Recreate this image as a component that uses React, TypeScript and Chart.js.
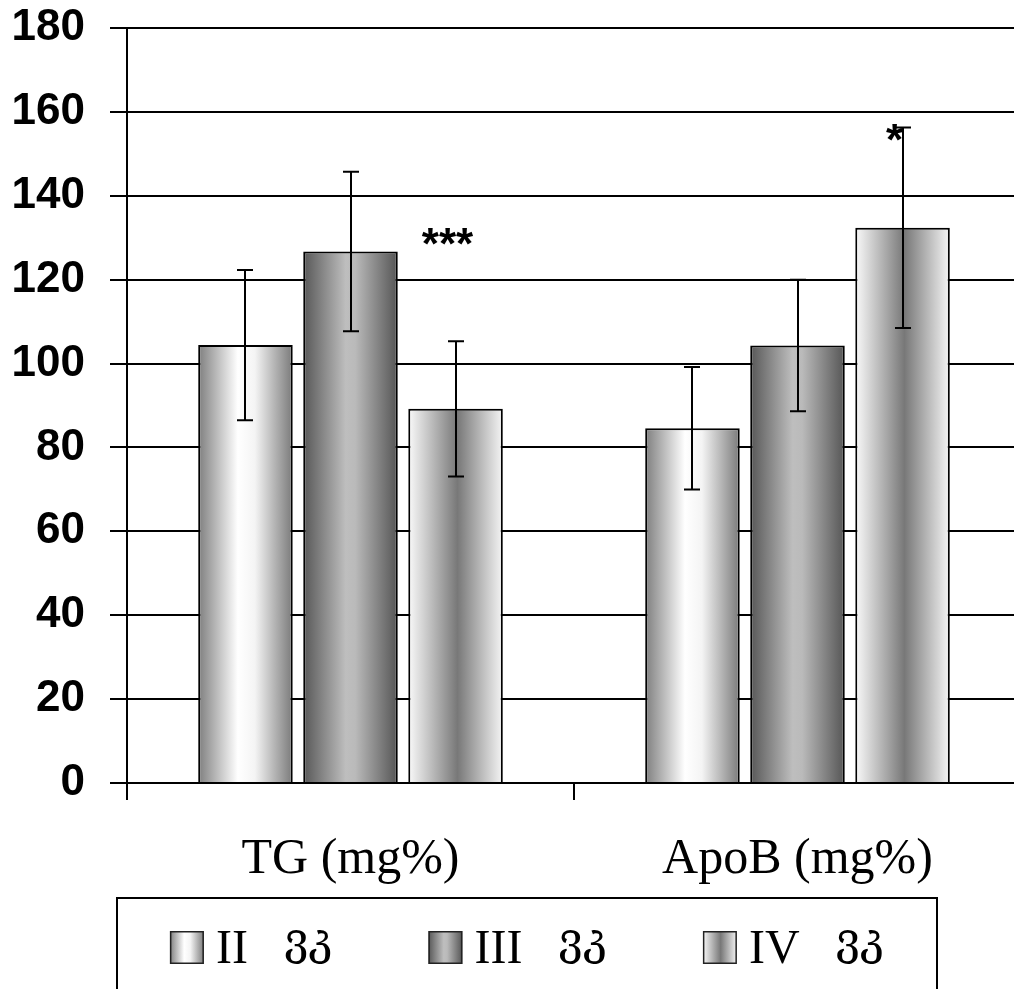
import { useEffect, useRef } from "react";
import { Chart, registerables } from "chart.js";

Chart.register(...registerables);

// ---- data ----
const categories = ["TG (mg%)", "ApoB (mg%)"];
const seriesLabels = ["II  ვკ", "III  ვკ", "IV  ვკ"];
const seriesII = [104.4, 84.6];
const seriesIII = [126.7, 104.3];
const seriesIV = [89.2, 132.4];
const errorII = [17.9, 14.6];
const errorIII = [19.0, 15.7];
const errorIV = [16.1, 23.9];
const yTickValues = [0, 20, 40, 60, 80, 100, 120, 140, 160, 180];
const markTexts = ["***", "*"];
const markSeries = [2, 2];
const markCategory = [0, 1];
const markValues = [131, 155.6];

// ---- styles ----
const gradientStops: [number, string][][] = [
  [[0, "#7e7e7e"], [0.42, "#ffffff"], [0.6, "#f4f4f4"], [1, "#7a7a7a"]],
  [[0, "#575757"], [0.45, "#bebebe"], [0.55, "#bababa"], [1, "#555555"]],
  [[0, "#fafafa"], [0.52, "#787878"], [1, "#f5f5f5"]],
];
const CAT_PCT = 0.705;
const BAR_PCT = 0.9;
const SERIF = "'Liberation Serif', 'DejaVu Serif', serif";
const GEO = "'DejaVu Serif', 'DejaVu Sans', serif";
const SANS = "'Liberation Sans', Arial, sans-serif";

function makeGradient(ctx: CanvasRenderingContext2D, x0: number, x1: number, series: number) {
  const g = ctx.createLinearGradient(x0, 0, x1, 0);
  for (const [o, c] of gradientStops[series]) g.addColorStop(o, c);
  return g;
}

const errorsBySeries = [errorII, errorIII, errorIV];

const errorBarPlugin = {
  id: "errorBars",
  afterDatasetsDraw(chart: any) {
    const ctx = chart.ctx;
    const ys = chart.scales.y;
    ctx.save();
    ctx.strokeStyle = "#000";
    ctx.lineWidth = 2;
    chart.data.datasets.forEach((ds: any, i: number) => {
      const meta = chart.getDatasetMeta(i);
      meta.data.forEach((bar: any, j: number) => {
        const v = ds.data[j];
        const e = errorsBySeries[i][j];
        const x = Math.round(bar.x);
        const yTop = ys.getPixelForValue(v + e);
        const yBot = ys.getPixelForValue(v - e);
        const cap = 8;
        ctx.beginPath();
        ctx.moveTo(x, yTop);
        ctx.lineTo(x, yBot);
        ctx.moveTo(x - cap, yTop);
        ctx.lineTo(x + cap, yTop);
        ctx.moveTo(x - cap, yBot);
        ctx.lineTo(x + cap, yBot);
        ctx.stroke();
      });
    });
    ctx.restore();
  },
};

const markPlugin = {
  id: "sigMarks",
  afterDatasetsDraw(chart: any) {
    const ctx = chart.ctx;
    const ys = chart.scales.y;
    const size = 44;
    ctx.save();
    ctx.fillStyle = "#000";
    ctx.font = `bold ${size}px ${SANS}`;
    ctx.textAlign = "center";
    ctx.textBaseline = "alphabetic";
    markTexts.forEach((t, k) => {
      const bar = chart.getDatasetMeta(markSeries[k]).data[markCategory[k]];
      const y = ys.getPixelForValue(markValues[k]);
      ctx.fillText(t, bar.x - 8, y + size * 0.57);
    });
    ctx.restore();
  },
};

const legendBoxPlugin = {
  id: "legendBox",
  afterDraw(chart: any) {
    const ctx = chart.ctx;
    ctx.save();
    ctx.strokeStyle = "#000";
    ctx.lineWidth = 2;
    const boxL = 117, boxT = 898, boxR = 937;
    ctx.strokeRect(boxL, boxT, boxR - boxL, 200);
    const romanFont = `48px ${SERIF}`;
    const geoFont = `44px ${GEO}`;
    const sw = 34, sh = 33, gap = 12, spacing = 96, innerGap = 36;
    const parts = seriesLabels.map((l) => {
      const idx = l.indexOf(" ");
      return [l.slice(0, idx), l.slice(idx).trim()];
    });
    const widths = parts.map(([r, g]) => {
      ctx.font = romanFont;
      const rw = ctx.measureText(r).width;
      ctx.font = geoFont;
      const gw = ctx.measureText(g).width;
      return [rw, gw];
    });
    const itemW = widths.map(([rw, gw]) => sw + gap + rw + innerGap + gw);
    const total = itemW.reduce((a, w) => a + w, 0) + spacing * (parts.length - 1);
    let x = (boxL + boxR) / 2 - total / 2;
    const top = 931;
    parts.forEach(([r, g], i) => {
      ctx.fillStyle = makeGradient(ctx, x, x + sw, i);
      ctx.fillRect(x, top, sw, sh);
      ctx.lineWidth = 1.5;
      ctx.strokeStyle = "#222";
      ctx.strokeRect(x + 0.75, top + 0.75, sw - 1.5, sh - 1.5);
      ctx.fillStyle = "#000";
      ctx.textBaseline = "alphabetic";
      ctx.textAlign = "left";
      ctx.font = romanFont;
      ctx.fillText(r, x + sw + gap, top + 32);
      ctx.font = geoFont;
      ctx.fillText(g, x + sw + gap + widths[i][0] + innerGap, top + 23);
      x += itemW[i] + spacing;
    });
    ctx.restore();
  },
};

export default function App() {
  const ref = useRef<HTMLCanvasElement | null>(null);

  useEffect(() => {
    if (!ref.current) return;
    const bg = (series: number) => (c: any) => {
      const fallback = gradientStops[series][1][1];
      const chart = c.chart;
      const xs = chart.scales?.x;
      if (!xs || c.dataIndex === undefined) return fallback;
      const center = xs.getPixelForValue(c.dataIndex);
      const catW = xs.width / categories.length;
      if (!Number.isFinite(center) || !Number.isFinite(catW) || catW <= 0) return fallback;
      const slot = (catW * CAT_PCT) / 3;
      const bw = slot * BAR_PCT;
      const cx = center + (series - 1) * slot;
      return makeGradient(chart.ctx, cx - bw / 2, cx + bw / 2, series);
    };
    const values = [seriesII, seriesIII, seriesIV];
    const chart = new Chart(ref.current, {
      type: "bar",
      data: {
        labels: categories,
        datasets: values.map((d, i) => ({
          label: seriesLabels[i],
          data: d,
          backgroundColor: bg(i),
          borderColor: "#000",
          borderWidth: 2,
          categoryPercentage: CAT_PCT,
          barPercentage: BAR_PCT,
        })),
      },
      options: {
        responsive: false,
        animation: false,
        devicePixelRatio: 1,
        layout: { padding: { left: 0, right: 9, top: 28, bottom: 0 } },
        plugins: {
          legend: { display: false },
          tooltip: { enabled: false },
          title: { display: false },
        },
        scales: {
          x: {
            afterFit: (s: any) => {
              s.height = 217;
              s.paddingLeft = 0;
              s.paddingRight = 0;
            },
            grid: {
              display: true,
              drawOnChartArea: false,
              drawTicks: true,
              tickLength: 17,
              color: "#000",
              lineWidth: 2,
              offset: true,
            },
            border: { display: true, color: "#000", width: 2 },
            ticks: {
              color: "#000",
              font: { family: SERIF, size: 50 },
              padding: 30,
              maxRotation: 0,
            },
          },
          y: {
            min: 0,
            max: 180,
            afterFit: (s: any) => {
              s.width = 127;
              s.paddingTop = 0;
              s.paddingBottom = 0;
            },
            afterBuildTicks: (s: any) => {
              s.ticks = yTickValues.map((v) => ({ value: v }));
            },
            grid: {
              color: "#000",
              lineWidth: 2,
              drawTicks: true,
              tickLength: 17,
            },
            border: { display: true, color: "#000", width: 2 },
            ticks: {
              color: "#000",
              font: { family: SANS, size: 44, weight: "bold" },
              padding: 25,
            },
          },
        },
      },
      plugins: [errorBarPlugin, markPlugin, legendBoxPlugin],
    });
    chart.update();
    return () => chart.destroy();
  }, []);

  return (
    <div
      style={{
        position: "absolute",
        left: 0,
        top: 0,
        width: 1014,
        height: 989,
        overflow: "hidden",
        background: "#fff",
      }}
    >
      <canvas ref={ref} width={1030} height={1000} style={{ display: "block" }} />
    </div>
  );
}
